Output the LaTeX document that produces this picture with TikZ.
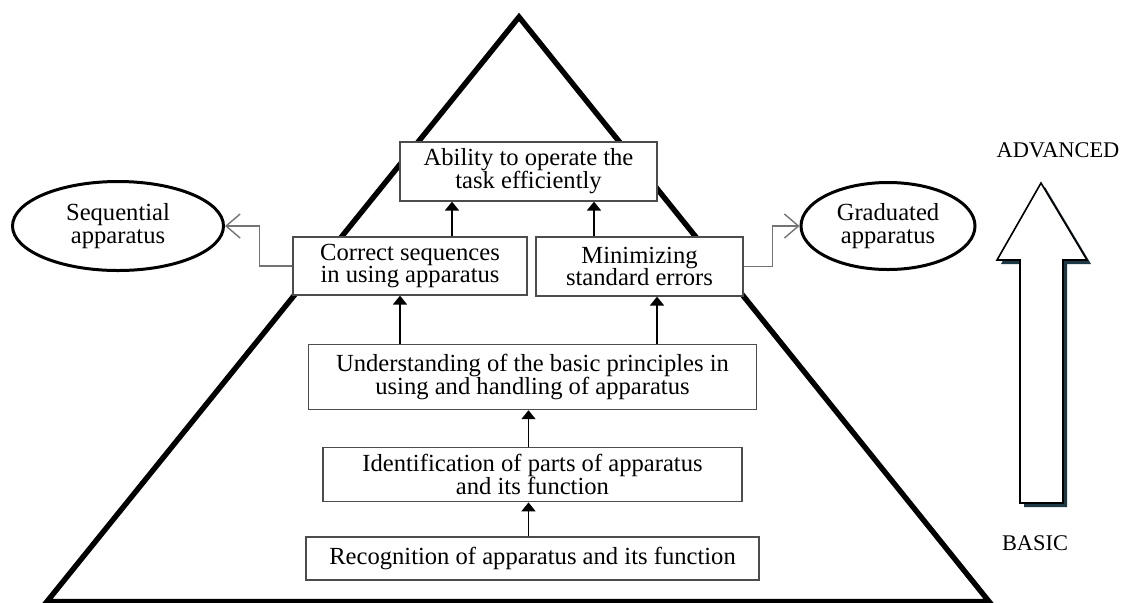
\documentclass[tikz,border=0pt]{standalone}
\usepackage{fontspec}
\setmainfont{Liberation Serif}
\usetikzlibrary{arrows.meta,positioning,shapes.geometric}
\definecolor{arrowshade}{HTML}{1E3946}
\tikzset{>={Triangle[length=4.5pt,width=7pt]},auto}
\tikzset{box/.style={draw=black!70,line width=0.6pt,fill=white,align=center,inner sep=0pt,font=\fontsize{12.3}{11.4}\selectfont}}

\begin{document}
\begin{tikzpicture}[x=0.5pt,y=-0.5pt,line join=miter,
        oval/.style={ellipse,draw,line width=1.5pt,fill=white,align=center,inner sep=0pt,font=\fontsize{12.3}{11.6}\selectfont},
        level/.style={font=\fontsize{11.2}{13}\selectfont},
        link/.style={draw=black!55,line width=0.7pt,-{Straight Barb[length=7pt,width=12pt]}},
        up/.style={->,line width=0.9pt}]
    \useasboundingbox (0,0) rectangle (1129,602);
    \draw[line width=2.7pt] (519,17) -- (989,601.5) -- (47,601.5) -- cycle;

    \node[box,minimum width=226.5pt,minimum height=21.5pt] (rec) at (532.5,558.5) {Recognition of apparatus and its function};
    \node[box,minimum width=209.5pt,minimum height=27pt] (idf) [above=17pt of rec] {Identification of parts of apparatus\\and its function};
    \node[box,minimum width=224pt,minimum height=32.5pt] (und) [above=18.5pt of idf] {Understanding of the basic principles in\\using and handling of apparatus};
    \node[box,minimum width=117pt,minimum height=29pt] (corr) at (410,266) {Correct sequences\\in using apparatus};
    \node[box,minimum width=103.5pt,minimum height=29.5pt] (min) at (639.5,266.5) {Minimizing\\standard errors};
    \node[box,minimum width=128.5pt,minimum height=29.5pt] (abil) at (528.5,171.5) {Ability to operate the\\task efficiently};

    \node[oval,minimum width=105.5pt,minimum height=44.5pt] (seq) at (118,226) {Sequential\\apparatus};
    \node[oval,minimum width=87pt,minimum height=43.5pt] (grad) at (888,226) {Graduated\\apparatus};

    \path[up]
        ([xshift=-2pt]rec.north) edge ([xshift=-2pt]rec.north |- idf.south)
        ([xshift=-2pt]rec.north |- idf.north) edge ([xshift=-2pt]rec.north |- und.south)
        ([xshift=-5pt]corr.south |- und.north) edge ([xshift=-5pt]corr.south)
        ([xshift=8.75pt]min.south |- und.north) edge ([xshift=8.75pt]min.south)
        ([xshift=21pt]corr.north) edge ([xshift=21pt]corr.north |- abil.south)
        ([xshift=-22.75pt]min.north) edge ([xshift=-22.75pt]min.north |- abil.south)
    ;
    \draw[link] (corr.west) -- ++(-33,0) |- (seq.east);
    \draw[link] (min.east) -- ++(29,0) |- (grad.west);

    \fill[arrowshade,shift={(4,4)}] (1041,183) -- (1087,260) -- (1063,260) -- (1063,503) -- (1020,503) -- (1020,260) -- (997,260) -- cycle;
    \draw[fill=white,line width=0.8pt] (1041,183) -- (1087,260) -- (1063,260) -- (1063,503) -- (1020,503) -- (1020,260) -- (997,260) -- cycle;
    \node[level] (adv) at (1058,150) {ADVANCED};
    \node[level] (bas) at (1035,543) {BASIC};
\end{tikzpicture}
\end{document}
